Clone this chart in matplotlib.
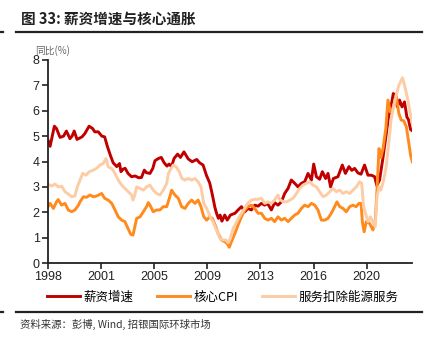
import matplotlib
matplotlib.use("Agg")
import matplotlib.pyplot as plt
from matplotlib.lines import Line2D

plt.rcParams['font.family'] = ['Liberation Sans', 'Noto Sans CJK SC', 'DejaVu Sans']
cjk = ['Noto Sans CJK SC', 'DejaVu Sans']

# 薪资增速
wage_t = [1998.0, 1998.15, 1998.3, 1998.45, 1998.6, 1998.85, 1999.1, 1999.3, 1999.55, 1999.7,
          1999.85, 2000.05, 2000.4, 2000.6, 2000.9, 2001.15, 2001.3, 2001.55, 2001.8, 2002.0,
          2002.2, 2002.4, 2002.6, 2002.85, 2003.05, 2003.15, 2003.3, 2003.45, 2003.65, 2003.9,
          2004.15, 2004.4, 2004.6, 2004.8, 2004.95, 2005.2, 2005.4, 2005.55, 2005.8, 2006.0,
          2006.2, 2006.4, 2006.55, 2006.72, 2006.9, 2007.15, 2007.35, 2007.6, 2007.9, 2008.18,
          2008.5, 2008.7, 2008.95, 2009.19, 2009.42, 2009.6, 2009.78, 2009.9, 2010.03, 2010.15,
          2010.28, 2010.48, 2010.65, 2010.88, 2011.2, 2011.42, 2011.66, 2011.9, 2012.1, 2012.36,
          2012.6, 2012.83, 2013.07, 2013.3, 2013.5, 2013.77, 2014.0, 2014.24, 2014.48, 2014.71,
          2014.95, 2015.18, 2015.42, 2015.65, 2015.89, 2016.12, 2016.36, 2016.6, 2016.76, 2016.95,
          2017.18, 2017.37, 2017.6, 2017.77, 2017.95, 2018.15, 2018.47, 2018.78, 2019.0, 2019.25,
          2019.45, 2019.65, 2019.88, 2020.1, 2020.35, 2020.59, 2020.83, 2021.06, 2021.22, 2021.41,
          2021.65, 2021.86, 2022.05, 2022.17, 2022.38, 2022.5, 2022.67, 2022.82, 2023.0, 2023.17,
          2023.34, 2023.45, 2023.6, 2023.72]
wage_v = [4.84, 4.6, 5.0, 5.39, 5.3, 4.95, 5.0, 5.2, 4.9, 5.0,
          5.2, 4.87, 4.97, 5.1, 5.39, 5.3, 5.17, 5.17, 5.0, 4.97,
          4.58, 4.25, 3.95, 3.8, 3.92, 3.6, 3.7, 3.73, 3.53, 3.4,
          3.43, 3.36, 3.37, 3.66, 3.56, 3.53, 3.73, 4.03, 4.12, 4.16,
          3.95, 3.82, 3.9, 3.8, 4.12, 4.29, 4.16, 4.38, 4.1, 3.99,
          4.08, 3.95, 3.86, 3.45, 3.15, 2.7, 2.2, 1.96, 1.76, 1.89,
          1.65, 1.89, 1.69, 1.89, 1.96, 2.09, 2.22, 2.02, 2.15, 2.09,
          2.28, 2.24, 2.35, 2.28, 2.35, 2.09, 2.38, 2.28, 2.41, 2.74,
          2.94, 3.27, 3.14, 3.0, 3.14, 3.2, 3.53, 3.27, 3.9, 3.4,
          3.3, 3.6, 3.33, 3.53, 3.0, 3.33, 3.4, 3.86, 3.53, 3.8,
          3.65, 3.73, 3.55, 3.5, 3.86, 3.46, 3.46, 3.4, 3.05, 3.27,
          4.15, 5.0, 5.8, 6.02, 6.68, 6.6, 6.15, 6.42, 6.15, 6.35,
          5.75, 5.65, 5.26, 5.21]

# 核心CPI
core_t = [1998.0, 1998.15, 1998.38, 1998.6, 1998.72, 1998.96, 1999.2, 1999.43, 1999.67, 1999.9,
          2000.15, 2000.26, 2000.5, 2000.73, 2000.96, 2001.2, 2001.43, 2001.79, 2002.0, 2002.25,
          2002.5, 2002.73, 2002.96, 2003.2, 2003.43, 2003.65, 2003.84, 2004.0, 2004.13, 2004.26,
          2004.5, 2004.73, 2004.96, 2005.08, 2005.2, 2005.43, 2005.67, 2005.9, 2006.14, 2006.38,
          2006.6, 2006.73, 2006.96, 2007.2, 2007.43, 2007.67, 2007.9, 2008.14, 2008.38, 2008.6,
          2008.8, 2009.0, 2009.2, 2009.42, 2009.6, 2009.85, 2010.0, 2010.25, 2010.48, 2010.65,
          2010.8, 2010.95, 2011.2, 2011.42, 2011.66, 2011.9, 2012.1, 2012.36, 2012.6, 2012.83,
          2013.07, 2013.3, 2013.54, 2013.77, 2014.0, 2014.24, 2014.48, 2014.71, 2014.95, 2015.18,
          2015.42, 2015.65, 2015.89, 2016.12, 2016.36, 2016.6, 2016.83, 2017.06, 2017.3, 2017.54,
          2017.77, 2018.0, 2018.24, 2018.4, 2018.6, 2018.83, 2019.06, 2019.3, 2019.53, 2019.75,
          2019.96, 2020.1, 2020.2, 2020.32, 2020.47, 2020.71, 2020.94, 2021.1, 2021.23, 2021.37,
          2021.5, 2021.65, 2021.85, 2022.0, 2022.17, 2022.35, 2022.58, 2022.77, 2022.94, 2023.12,
          2023.3, 2023.48, 2023.6, 2023.72]
core_v = [2.22, 2.35, 2.15, 2.41, 2.5, 2.28, 2.35, 2.09, 2.02, 2.09,
          2.28, 2.41, 2.61, 2.59, 2.68, 2.61, 2.64, 2.74, 2.55, 2.48,
          2.35, 2.09, 1.82, 1.69, 1.63, 1.36, 1.13, 1.1, 1.43, 1.76,
          1.82, 2.02, 2.22, 2.38, 2.28, 2.02, 2.09, 2.09, 2.22, 2.22,
          2.61, 2.87, 2.68, 2.55, 2.22, 2.15, 2.35, 2.48, 2.35, 2.48,
          2.22, 1.82, 1.69, 1.82, 1.76, 1.43, 1.17, 0.91, 0.84, 0.77,
          0.62, 0.84, 1.17, 1.5, 1.82, 2.09, 2.22, 2.28, 2.15, 1.96,
          1.96, 1.76, 1.69, 1.76, 1.63, 1.82, 1.69, 1.76, 1.63, 1.76,
          1.89, 1.96, 2.15, 2.28, 2.22, 2.35, 2.28, 2.09, 1.69, 1.69,
          1.76, 1.96, 2.22, 2.41, 2.22, 2.15, 2.02, 2.22, 2.28, 2.22,
          2.35, 2.35, 1.6, 1.23, 1.63, 1.56, 1.3, 1.6, 2.9, 4.51,
          4.15, 4.5, 5.3, 6.42, 5.95, 6.1, 6.61, 5.9, 5.63, 5.6,
          5.37, 4.71, 4.25, 3.99]

# 服务扣除能源服务
serv_t = [1998.0, 1998.25, 1998.5, 1998.73, 1998.96, 1999.2, 1999.43, 1999.67, 1999.9, 2000.07,
          2000.26, 2000.45, 2000.68, 2000.92, 2001.2, 2001.43, 2001.67, 2001.9, 2002.1, 2002.25,
          2002.5, 2002.73, 2002.96, 2003.2, 2003.43, 2003.67, 2003.9, 2004.0, 2004.13, 2004.26,
          2004.5, 2004.73, 2004.96, 2005.2, 2005.43, 2005.67, 2005.9, 2006.14, 2006.38, 2006.5,
          2006.7, 2006.85, 2007.05, 2007.27, 2007.45, 2007.67, 2007.9, 2008.14, 2008.38, 2008.6,
          2008.8, 2009.0, 2009.2, 2009.43, 2009.67, 2009.9, 2010.13, 2010.35, 2010.55, 2010.72,
          2010.88, 2011.07, 2011.26, 2011.45, 2011.66, 2011.88, 2012.1, 2012.36, 2012.6, 2012.83,
          2013.07, 2013.3, 2013.54, 2013.77, 2014.0, 2014.24, 2014.35, 2014.6, 2014.83, 2015.07,
          2015.3, 2015.54, 2015.77, 2016.0, 2016.24, 2016.48, 2016.71, 2016.95, 2017.18, 2017.42,
          2017.66, 2017.9, 2018.12, 2018.36, 2018.6, 2018.83, 2019.06, 2019.3, 2019.53, 2019.77,
          2020.0, 2020.15, 2020.28, 2020.42, 2020.59, 2020.76, 2020.94, 2021.1, 2021.23, 2021.37,
          2021.5, 2021.7, 2021.88, 2022.07, 2022.22, 2022.4, 2022.58, 2022.77, 2022.94, 2023.03,
          2023.2, 2023.41, 2023.55, 2023.72]
serv_v = [3.11, 3.03, 3.11, 3.0, 3.03, 2.81, 2.72, 2.61, 2.64, 3.0,
          3.27, 3.53, 3.46, 3.6, 3.66, 3.73, 3.86, 3.92, 4.12, 3.79,
          3.73, 3.53, 3.27, 3.07, 2.94, 2.81, 2.68, 2.48, 2.68, 3.0,
          2.94, 2.87, 3.0, 3.07, 2.87, 2.74, 2.68, 2.87, 3.14, 3.53,
          3.73, 3.86, 3.79, 3.6, 3.33, 3.27, 3.33, 3.27, 3.33, 3.2,
          3.0, 2.35, 2.15, 1.85, 1.6, 1.3, 0.97, 0.91, 0.91, 0.8,
          0.97, 1.36, 1.56, 1.76, 1.96, 2.15, 2.35, 2.48, 2.51, 2.51,
          2.55, 2.35, 2.41, 2.35, 2.48, 2.68, 2.51, 2.41, 2.41, 2.48,
          2.55, 2.74, 2.94, 3.07, 3.14, 3.2, 3.07, 3.0, 2.81, 2.61,
          2.68, 2.81, 2.94, 2.81, 2.87, 2.74, 2.81, 2.74, 2.87, 3.0,
          3.2, 3.14, 2.22, 1.96, 1.63, 1.82, 1.63, 1.43, 2.61, 3.0,
          2.87, 3.27, 3.8, 4.8, 5.63, 6.15, 6.61, 7.0, 7.2, 7.3,
          6.95, 6.42, 5.96, 5.5]

tick_pos = [1998 + 3.75 * i for i in range(7)]
tick_lab = ['1998', '2001', '2005', '2009', '2013', '2016', '2020']

fig = plt.figure(figsize=(4.32, 3.43), dpi=100)
ax = fig.add_axes([48 / 432, 1 - 263 / 343, 364 / 432, 203 / 343])

ax.plot(wage_t, wage_v, color='#C00000', lw=2.1, label='薪资增速')
ax.plot(core_t, core_v, color='#FF8A1E', lw=2.1, label='核心CPI')
ax.plot(serv_t, serv_v, color='#FCCCA4', lw=2.1, label='服务扣除能源服务')

ax.set_xlim(1998, 2023.7)
ax.set_ylim(0, 8)
ax.set_yticks(range(9))
ax.set_xticks(tick_pos)
ax.set_xticklabels(tick_lab)
for s in ['top', 'right']:
    ax.spines[s].set_visible(False)
for s in ['left', 'bottom']:
    ax.spines[s].set_linewidth(1.3)
    ax.spines[s].set_color('#222222')
ax.tick_params(direction='out', length=4, width=1.2, colors='#222222', labelsize=9, pad=2)

ax.text(-0.035, 1.045, '同比(%)', transform=ax.transAxes, family=cjk, fontsize=7,
        color='#666666', ha='left', va='center')

fig.text(21 / 432, 1 - 19 / 343, '图 33: 薪资增速与核心通胀', family=cjk, fontsize=10.5,
         fontweight='bold', color='#222222', va='center')
fig.add_artist(Line2D([16 / 432, 422 / 432], [1 - 32 / 343] * 2, color='#222222', lw=1.6))
fig.add_artist(Line2D([0, 3 / 432], [1 - 32 / 343] * 2, color='#222222', lw=1.6))
fig.add_artist(Line2D([16 / 432, 422 / 432], [1 - 312 / 343] * 2, color='#222222', lw=1.6))
fig.add_artist(Line2D([0, 3 / 432], [1 - 312 / 343] * 2, color='#222222', lw=1.6))
fig.text(20 / 432, 1 - 324 / 343, '资料来源：彭博, Wind, 招银国际环球市场', family=cjk, fontsize=7.5,
         color='#333333', va='center')

fig.legend(loc='center left', bbox_to_anchor=(47 / 432, 1 - 297 / 343), ncol=3, frameon=False,
           prop={'family': cjk, 'size': 9}, handlelength=2.65, columnspacing=1.85,
           handletextpad=0.3, borderpad=0, borderaxespad=0)

fig.savefig('out.png', dpi=100)
